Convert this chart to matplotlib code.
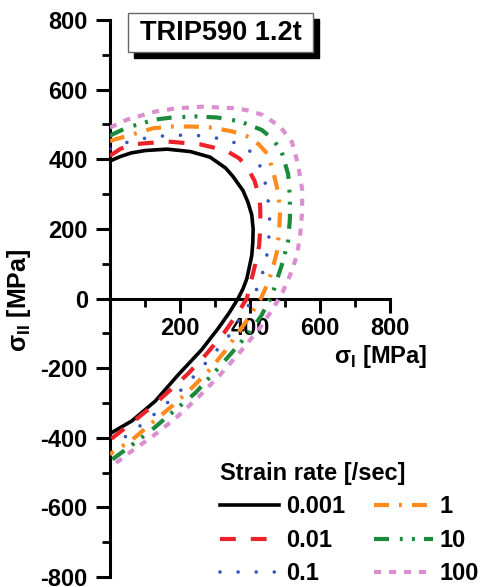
import matplotlib
matplotlib.use('Agg')
import matplotlib.pyplot as plt
from matplotlib.ticker import MultipleLocator
from matplotlib.patches import Rectangle

plt.rcParams['font.family'] = ['Liberation Sans', 'DejaVu Sans']
plt.rcParams['font.weight'] = 'bold'
plt.rcParams['axes.unicode_minus'] = False
plt.rcParams['mathtext.fontset'] = 'custom'
plt.rcParams['mathtext.rm'] = 'Liberation Sans'
plt.rcParams['mathtext.bf'] = 'Liberation Sans:bold'

# yield loci (sigma_I, sigma_II in MPa)
rate_labels = ['0.001', '0.01', '0.1', '1', '10', '100']

x_0001 = [0, 30, 60, 100, 163, 230, 286, 330, 351, 380, 394, 405, 409, 408, 405, 398, 391, 380, 366,
          340, 309, 262, 195, 129, 62, 0]
y_0001 = [395, 408, 418, 425, 429, 422, 406, 375, 351, 310, 277, 240, 200, 160, 123, 90, 57, 28, 0,
          -42, -86, -147, -219, -295, -352, -388]

x_001 = [0, 30, 66, 163, 257, 294, 340, 370, 395, 413, 424, 429, 430, 426, 414, 400, 391,
         365, 325, 275, 222, 170, 120, 65, 0]
y_001 = [410, 430, 443, 451, 443, 434, 420, 402, 372, 338, 300, 266, 209, 151, 94, 37, 0,
         -42, -100, -160, -217, -265, -310, -355, -406]

x_01 = [0, 29, 80, 137, 191, 243, 294, 349, 400, 420, 434, 448, 454, 457, 452, 446, 429, 408,
        380, 337, 291, 246, 197, 143, 91, 37, 0]
y_01 = [430, 443, 457, 466, 469, 469, 463, 451, 423, 400, 368, 314, 263, 209, 157, 106, 51, 0,
        -45, -111, -165, -217, -269, -319, -362, -402, -422]

x_1 = [0, 14, 63, 123, 177, 234, 291, 349, 391, 425, 451, 466, 480, 486, 483, 477, 463, 448, 431,
       391, 329, 280, 223, 177, 120, 63, 6, 0]
y_1 = [452, 457, 471, 489, 494, 494, 491, 480, 466, 443, 414, 366, 306, 249, 191, 134, 80, 37, 0,
       -63, -151, -210, -268, -309, -357, -406, -443, -448]

x_10 = [0, 6, 49, 129, 177, 243, 306, 371, 434, 466, 491, 509, 514, 514, 509, 494, 480, 463, 458,
        432, 400, 366, 314, 243, 177, 120, 57, 0]
y_10 = [466, 471, 491, 514, 520, 523, 520, 509, 484, 457, 420, 357, 291, 229, 166, 106, 63, 9, 0,
        -50, -95, -135, -195, -272, -328, -377, -425, -467]

x_100 = [0, 49, 129, 186, 263, 349, 391, 437, 486, 520, 537, 549, 549, 543, 534, 514, 494, 483,
         455, 429, 386, 314, 251, 186, 123, 57, 0]
y_100 = [491, 514, 537, 546, 551, 547, 541, 527, 494, 449, 386, 314, 249, 180, 123, 66, 20, 0,
         -45, -83, -137, -220, -285, -345, -395, -442, -485]

xs = [x_0001, x_001, x_01, x_1, x_10, x_100]
ys = [y_0001, y_001, y_01, y_1, y_10, y_100]

colors = ['black', '#ec2229', '#3b55b6', '#ff8b1f', '#1b8b3b', '#dc8fd0']
dash_styles = [None, (3.8, 3.6), (0.01, 5.0), (3.6, 2.4, 0.7, 2.4),
               (3.6, 2.6, 0.7, 2.2, 0.7, 2.2), (1.7, 1.9)]
widths = [2.6, 3.0, 2.6, 3.0, 3.0, 3.0]

fig = plt.figure(figsize=(4.89, 5.87), dpi=100)
ax = fig.add_axes([110 / 489, 10 / 587, 280 / 489, 557 / 587])

for x, y, lab, c, d, w in zip(xs, ys, rate_labels, colors, dash_styles, widths):
    line, = ax.plot(x, y, color=c, lw=w, label=lab, zorder=3, solid_joinstyle='round')
    if d is not None:
        line.set_dashes(d)
        line.set_dash_capstyle('round' if d[0] < 0.1 else 'butt')

ax.set_xlim(0, 800)
ax.set_ylim(-800, 800)

ax.spines['bottom'].set_position(('data', 0))
ax.spines['top'].set_visible(False)
ax.spines['right'].set_visible(False)
for s in ['left', 'bottom']:
    ax.spines[s].set_linewidth(2.2)

ax.set_xticks([0, 200, 400, 600, 800])
ax.set_xticklabels(['', '200', '400', '600', '800'])
ax.set_yticks(range(-800, 801, 200))
ax.set_yticklabels([str(v) for v in range(-800, 801, 200)])
ax.xaxis.set_minor_locator(MultipleLocator(100))
ax.yaxis.set_minor_locator(MultipleLocator(100))
ax.tick_params(which='major', direction='out', length=10, width=2.2, labelsize=17, pad=3)
ax.tick_params(which='minor', direction='out', length=6, width=2.0)
ax.tick_params(axis='y', which='major', pad=6)

ax.text(774, -168, 'σ$_\\mathbf{I}$ [MPa]', fontsize=17, fontweight='bold',
        ha='center', va='center')
ax.set_ylabel('σ$_\\mathbf{II}$ [MPa]', fontsize=18, fontweight='bold')
ax.yaxis.set_label_coords(-0.275, 0.497)

# title box with drop shadow (pixel layout from the reference)
W, H = 489, 587
bx0, bx1, by0, by1 = 128, 313, 13, 52
fig.add_artist(Rectangle(((bx0 + 6) / W, 1 - (by1 + 6) / H), (bx1 - bx0) / W, (by1 - by0) / H,
                         transform=fig.transFigure, facecolor='black', edgecolor='black', zorder=4))
fig.add_artist(Rectangle((bx0 / W, 1 - by1 / H), (bx1 - bx0) / W, (by1 - by0) / H,
                         transform=fig.transFigure, facecolor='white', edgecolor='#666666',
                         lw=1, zorder=5))
fig.text((bx0 + bx1) / 2 / W, 1 - (by0 + by1) / 2 / H, 'TRIP590 1.2t', fontsize=19.5,
         ha='center', va='center', zorder=6)

leg = fig.legend(loc='upper left', bbox_to_anchor=(220 / 489, 1 - 462 / 587), ncol=2,
                 frameon=False, fontsize=17, title='Strain rate [/sec]',
                 title_fontproperties={'weight': 'bold', 'size': 17},
                 handlelength=2.5, handletextpad=0.3, columnspacing=1.2,
                 labelspacing=0.44, borderpad=0, borderaxespad=0, alignment='left')

fig.savefig('out.png', dpi=100)
